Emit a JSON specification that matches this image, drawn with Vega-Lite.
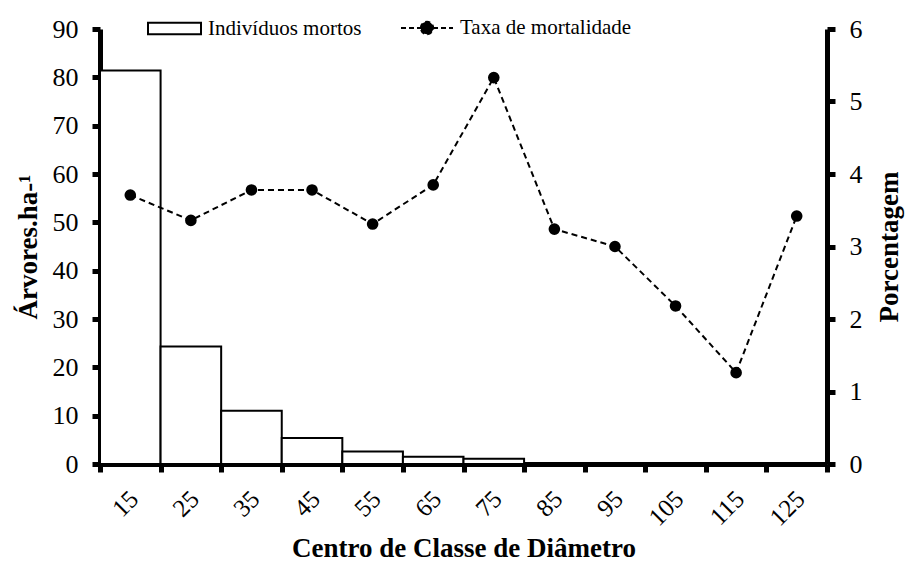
{
  "$schema": "https://vega.github.io/schema/vega-lite/v6.json",
  "width": 727,
  "height": 435,
  "padding": {"left": 100, "top": 29, "right": 78, "bottom": 98},
  "autosize": {"type": "none"},
  "background": "white",
  "config": {
    "view": {"stroke": null},
    "font": "Liberation Serif",
    "axis": {
      "labelFont": "Liberation Serif",
      "titleFont": "Liberation Serif",
      "labelColor": "black",
      "titleColor": "black",
      "domainColor": "black",
      "tickColor": "black",
      "domainWidth": 5,
      "tickWidth": 5,
      "tickSize": 8,
      "grid": false,
      "labelFontSize": 26,
      "titleFontSize": 27,
      "titleFontWeight": "bold"
    },
    "legend": {
      "labelFont": "Liberation Serif",
      "labelFontSize": 21,
      "labelColor": "black",
      "labelLimit": 0,
      "padding": 0
    }
  },
  "data": {
    "values": [
      {"classe": "15", "mortos": 81.4, "taxa": 3.71},
      {"classe": "25", "mortos": 24.3, "taxa": 3.36},
      {"classe": "35", "mortos": 11.0, "taxa": 3.78},
      {"classe": "45", "mortos": 5.4, "taxa": 3.78},
      {"classe": "55", "mortos": 2.6, "taxa": 3.31},
      {"classe": "65", "mortos": 1.5, "taxa": 3.85},
      {"classe": "75", "mortos": 1.1, "taxa": 5.33},
      {"classe": "85", "mortos": 0, "taxa": 3.24},
      {"classe": "95", "mortos": 0, "taxa": 3.0},
      {"classe": "105", "mortos": 0, "taxa": 2.18},
      {"classe": "115", "mortos": 0, "taxa": 1.26},
      {"classe": "125", "mortos": 0, "taxa": 3.42}
    ]
  },
  "encoding": {
    "x": {
      "field": "classe",
      "type": "ordinal",
      "sort": null,
      "scale": {"paddingInner": 0, "paddingOuter": 0},
      "axis": {
        "title": "Centro de Classe de Diâmetro",
        "titleFontSize": 27,
        "labelAngle": -45,
        "labelFontSize": 25,
        "labelPadding": 14,
        "labelOffset": -5,
        "tickBand": "extent",
        "titlePadding": 5
      }
    }
  },
  "layer": [
    {
      "mark": {"type": "bar", "stroke": "black", "strokeWidth": 2},
      "encoding": {
        "y": {
          "field": "mortos",
          "type": "quantitative",
          "scale": {"domain": [0, 90]},
          "axis": {
            "title": "Árvores.ha-¹",
            "values": [0, 10, 20, 30, 40, 50, 60, 70, 80, 90],
            "labelPadding": 14,
            "titlePadding": 10
          }
        },
        "fill": {
          "datum": "Indivíduos mortos",
          "scale": {"range": ["white"]},
          "legend": {
            "title": null,
            "orient": "none",
            "legendX": 47,
            "legendY": -28,
            "symbolType": "M-1,-0.22H1V0.22H-1Z",
            "symbolSize": 2809,
            "symbolStrokeColor": "black",
            "symbolStrokeWidth": 2,
            "symbolFillColor": "white",
            "labelOffset": 6
          }
        }
      }
    },
    {
      "mark": {"type": "line", "color": "black", "strokeWidth": 2, "strokeDash": [6, 4]},
      "encoding": {
        "y": {
          "field": "taxa",
          "type": "quantitative",
          "scale": {"domain": [0, 6]},
          "axis": {
            "orient": "right",
            "title": "Porcentagem",
            "values": [0, 1, 2, 3, 4, 5, 6],
            "labelPadding": 14,
            "titlePadding": 14,
            "titleAngle": 270,
            "titleBaseline": "top"
          }
        },
        "stroke": {
          "datum": "Taxa de mortalidade",
          "scale": {"range": ["black"]},
          "legend": {
            "title": null,
            "orient": "none",
            "legendX": 300,
            "legendY": -28,
            "symbolType": "M-1,0H1M-0.24,0A0.24,0.24 0 1,1 0.24,0A0.24,0.24 0 1,1 -0.24,0Z",
            "symbolSize": 2704,
            "symbolStrokeColor": "black",
            "symbolStrokeWidth": 2,
            "symbolFillColor": "black",
            "symbolDash": [5, 3],
            "labelOffset": 6
          }
        }
      }
    },
    {
      "mark": {"type": "point", "filled": true, "color": "black", "size": 135, "opacity": 1},
      "encoding": {
        "y": {"field": "taxa", "type": "quantitative", "scale": {"domain": [0, 6]}, "axis": null}
      }
    }
  ],
  "resolve": {"scale": {"y": "independent", "fill": "independent", "stroke": "independent"}}
}
